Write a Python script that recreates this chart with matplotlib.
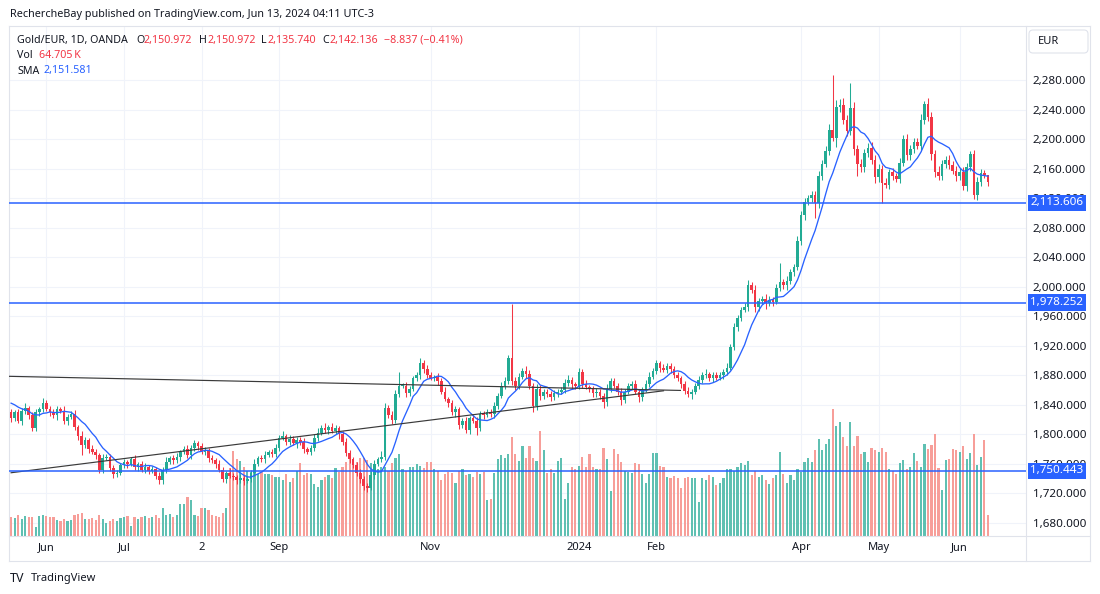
import numpy as np
import pandas as pd
import matplotlib
matplotlib.use("Agg")
from matplotlib import pyplot as plt
from matplotlib.lines import Line2D
from matplotlib.patches import FancyBboxPatch
from matplotlib.transforms import IdentityTransform
import matplotlib.ticker as mticker

plt.rcParams['font.family'] = ['Noto Sans', 'DejaVu Sans']

W, H = 1100, 594

# ---- daily bars, Gold/EUR (OANDA), 18 May 2023 -> 13 Jun 2024 ----
holidays = ["2023-12-25", "2024-01-01", "2024-03-29"]

closes = [
    1822, 1830, 1818, 1832, 1836, 1826, 1808, 1830, 1834, 1842,                      # May 23
    1835, 1830, 1826, 1834, 1832, 1818, 1824, 1828, 1810, 1798, 1786, 1792, 1780,
    1776, 1772, 1752, 1768, 1770, 1754, 1746, 1748, 1758,                            # Jun
    1762, 1760, 1766, 1756, 1760, 1752, 1756, 1750, 1753, 1744, 1738, 1752, 1763,
    1768, 1765, 1770, 1776, 1780, 1772, 1782, 1788,                                  # Jul
    1784, 1776, 1778, 1768, 1765, 1760, 1752, 1740, 1748, 1744, 1742, 1738, 1741,
    1737, 1740, 1748, 1760, 1768, 1766, 1772, 1776, 1774, 1782,                      # Aug
    1795, 1798, 1790, 1794, 1788, 1793, 1790, 1780, 1776, 1782, 1795, 1802, 1808,
    1806, 1810, 1805, 1808, 1800, 1790, 1775, 1766,                                  # Sep
    1758, 1748, 1740, 1730, 1728, 1745, 1760, 1766, 1770, 1836, 1826, 1820, 1855,
    1866, 1866, 1856, 1862, 1876, 1880, 1897, 1889, 1880,                            # Oct
    1876, 1878, 1872, 1858, 1848, 1842, 1830, 1834, 1812, 1818, 1806, 1822, 1818,
    1808, 1828, 1826, 1830, 1827, 1838, 1852, 1866, 1872,                            # Nov
    1903, 1872, 1866, 1878, 1886, 1882, 1866, 1838, 1862, 1852, 1858, 1854, 1850,
    1856, 1858, 1860, 1870, 1874, 1868, 1866,                                        # Dec
    1884, 1868, 1864, 1862, 1856, 1858, 1852, 1844, 1862, 1872, 1866, 1858, 1846,
    1858, 1866, 1868, 1858, 1850, 1860, 1868, 1878, 1886,                            # Jan 24
    1896, 1890, 1887, 1893, 1888, 1880, 1876, 1868, 1859, 1854, 1858, 1865, 1874,
    1880, 1882, 1876, 1881, 1877, 1880, 1884, 1890,                                  # Feb
    1918, 1945, 1957, 1969, 1972, 2002, 1996, 1972, 1980, 1984, 1978, 1982, 1979,
    1998, 2006, 2002, 2008, 2020, 2026, 2062,                                        # Mar
    2097, 2115, 2120, 2124, 2113, 2150, 2166, 2184, 2212, 2202, 2243, 2246, 2226,
    2211, 2242, 2186, 2166, 2162, 2181, 2188, 2172, 2148,                            # Apr
    2160, 2140, 2138, 2155, 2150, 2146, 2168, 2200, 2178, 2186, 2196, 2190, 2226,
    2248, 2230, 2180, 2156, 2150, 2166, 2172, 2165, 2157, 2150,                      # May
    2156, 2136, 2162, 2180, 2124, 2142, 2154, 2150.973, 2142.136,                    # Jun
]
first_open = 1830

upper_wick = [
    4, 3, 5, 4, 6, 3, 4, 5, 3, 7,
    4, 3, 5, 4, 3, 6, 3, 4, 5, 3, 6, 4, 3, 5, 4, 3, 6, 4, 3, 5, 4, 3,
    5, 3, 4, 6, 3, 4, 5, 3, 4, 3, 5, 4, 6, 3, 4, 5, 3, 4, 6, 3, 5,
    3, 4, 5, 3, 4, 3, 5, 4, 3, 6, 4, 3, 5, 4, 3, 4, 6, 3, 4, 5, 3, 4, 5,
    4, 6, 3, 5, 4, 3, 4, 5, 3, 4, 5, 6, 4, 7, 3, 5, 4, 3, 4, 5, 4,
    3, 4, 5, 3, 4, 6, 5, 4, 8, 6, 4, 6, 5, 18, 4, 5, 4, 3, 4, 6, 4, 5,
    4, 3, 5, 4, 6, 3, 4, 5, 3, 4, 6, 3, 4, 5, 4, 3, 5, 4, 6, 4, 5, 6,
    5, 73, 6, 5, 4, 6, 5, 4, 6, 5, 4, 3, 5, 4, 3, 4, 5, 6, 4, 3,
    6, 4, 5, 3, 4, 5, 3, 4, 6, 5, 4, 3, 5, 4, 3, 4, 5, 3, 4, 5, 6, 4,
    5, 4, 5, 3, 4, 5, 4, 3, 4, 5, 3, 4, 5, 4, 6, 3, 4, 3, 5, 4, 6,
    5, 6, 5, 4, 6, 7, 5, 6, 5, 4, 6, 5, 4, 6, 26, 5, 6, 4, 5, 6,
    6, 5, 4, 6, 5, 7, 5, 6, 8, 75, 10, 8, 9, 6, 34, 8, 6, 7, 5, 6, 8, 6,
    6, 5, 7, 5, 6, 4, 6, 5, 7, 6, 5, 6, 8, 3, 7, 6, 5, 7, 6, 5, 6, 5, 6,
    5, 6, 5, 4, 5, 6, 5, 4, 0,
]

lower_wick = [
    5, 4, 3, 6, 4, 5, 4, 3, 5, 4,
    3, 5, 4, 6, 3, 4, 5, 3, 4, 5, 14, 4, 5, 3, 6, 4, 5, 3, 4, 5, 4, 3,
    4, 5, 3, 4, 6, 3, 5, 4, 3, 4, 5, 5, 4, 3, 5, 4, 6, 3, 4, 5, 4,
    5, 3, 4, 6, 4, 5, 3, 4, 6, 3, 4, 5, 4, 6, 3, 5, 4, 3, 4, 5, 3, 4, 5,
    4, 3, 5, 4, 3, 6, 4, 5, 3, 4, 5, 4, 3, 4, 5, 3, 4, 6, 5, 4, 5,
    4, 5, 6, 5, 6, 4, 5, 3, 4, 5, 4, 6, 5, 4, 3, 5, 4, 3, 4, 5, 6, 4,
    3, 4, 5, 4, 3, 5, 4, 6, 5, 3, 4, 5, 3, 9, 4, 5, 3, 4, 5, 4, 3, 4,
    4, 5, 6, 4, 3, 5, 4, 8, 5, 6, 4, 3, 5, 4, 5, 3, 4, 5, 6, 4,
    4, 5, 3, 4, 5, 6, 4, 8, 5, 4, 3, 5, 6, 4, 3, 5, 4, 6, 5, 3, 4, 3,
    4, 5, 3, 4, 5, 3, 4, 5, 4, 4, 6, 3, 4, 5, 3, 4, 5, 3, 4, 5, 4,
    3, 4, 5, 4, 3, 5, 4, 6, 5, 4, 8, 4, 5, 3, 4, 5, 6, 4, 5, 4,
    5, 6, 4, 5, 20, 6, 5, 4, 6, 5, 13, 6, 5, 7, 6, 8, 16, 7, 6, 5, 6, 8,
    6, 27, 5, 6, 5, 4, 6, 5, 7, 6, 5, 4, 6, 5, 6, 8, 7, 5, 6, 5, 6, 5, 7,
    6, 5, 6, 5, 5, 6, 5, 4, 6.396,
]

volume_k = [
    58, 55, 62, 52, 60, 56, 58, 25, 60, 62,
    60, 58, 56, 48, 46, 50, 45, 48, 64, 66, 68, 52, 50, 55, 48, 62, 50, 38, 46, 52, 44, 54,
    56, 60, 30, 58, 52, 56, 60, 54, 58, 62, 55, 84, 62, 66, 58, 64, 96, 98, 120, 108, 62,
    60, 86, 84, 80, 62, 60, 58, 70, 86, 209, 259, 237, 230, 210, 200, 195, 194, 190, 196, 188,
    190, 185, 180,
    180, 172, 188, 165, 176, 200, 222, 185, 194, 190, 160, 150, 172, 180, 185, 178, 208, 195,
    212, 225, 236,
    230, 225, 238, 240, 232, 222, 215, 205, 210, 212, 200, 222, 240, 250, 205, 200, 210, 212,
    220, 215, 208, 225,
    225, 205, 198, 170, 188, 196, 192, 163, 200, 206, 185, 190, 180, 195, 190, 196, 108, 112,
    194, 236, 248, 240,
    252, 302, 252, 230, 277, 240, 277, 240, 230, 323, 262, 194, 206, 194, 230, 240, 114, 163,
    212, 206,
    215, 243, 210, 250, 210, 206, 206, 271, 237, 138, 268, 252, 225, 200, 197, 194, 222, 219,
    190, 163, 190, 255,
    255, 215, 210, 180, 178, 182, 176, 145, 176, 180, 176, 176, 102, 176, 172, 185, 180, 157,
    163, 176, 206,
    206, 200, 212, 222, 218, 231, 185, 200, 179, 185, 172, 160, 176, 185, 256, 190, 163, 185,
    172, 206,
    197, 225, 240, 225, 262, 296, 265, 283, 296, 391, 336, 351, 302, 277, 351, 277, 308, 250,
    256, 225, 271, 262,
    256, 271, 256, 206, 200, 191, 222, 234, 206, 212, 253, 231, 212, 283, 268, 280, 314, 209,
    139, 234, 237, 268, 262,
    256, 277, 237, 253, 314, 216, 243, 293, 64.705,
]

sma_warmup = [1850, 1846, 1852, 1848, 1844, 1840, 1842, 1836]
sma_len = 9

levels = [2113.606, 1978.252, 1750.443]
trend_falling = ([-0.6, 189.8], [1878.6, 1859.5])
trend_rising = ([0, 185], [1748, 1859])

price_ticks = list(range(1680, 2281, 40))
tick_days = ["2023-06-01", "2023-07-03", "2023-08-02", "2023-09-01", "2023-11-01",
             "2024-01-02", "2024-02-01", "2024-04-01", "2024-05-01", "2024-06-03"]
tick_labels = ["Jun", "Jul", "2", "Sep", "Nov", "2024", "Feb", "Apr", "May", "Jun"]

# ---- colours ----
up_col = "#22ab94"
dn_col = "#f23645"
vup_col = "#5fc0b2"
vdn_col = "#f79e99"
blue = "#2962ff"
txt = "#131722"
border = "#e0e3eb"
grid_col = "#f0f3fa"

dates = pd.bdate_range("2023-05-18", "2024-06-13").drop(pd.to_datetime(holidays))
n = len(dates)
idx = np.arange(n)
c = np.array(closes, dtype=float)
o = np.r_[first_open, c[:-1]]
hi = np.maximum(o, c) + np.array(upper_wick, dtype=float)
lo = np.minimum(o, c) - np.array(lower_wick, dtype=float)
vol = np.array(volume_k, dtype=float)
up = c >= o

sma = pd.Series(sma_warmup + closes).rolling(sma_len).mean().to_numpy()[len(sma_warmup):]
tick_pos = [dates.get_loc(pd.Timestamp(d)) for d in tick_days]


def fx(px):
    return px / W


def fy(py):
    return 1 - py / H


fig = plt.figure(figsize=(W / 100, H / 100), dpi=100)
fig.patch.set_facecolor("white")

pane = [fx(9), fy(535.5), fx(1026) - fx(9), fy(26) - fy(535.5)]
xlim = (-0.6, 287.8)

axv = fig.add_axes(pane, zorder=1)
ax = fig.add_axes(pane, zorder=2)
ax.patch.set_visible(False)

ax.set_xlim(*xlim)
ax.set_ylim(1663.0, 2353.1)
axv.set_xlim(*xlim)
axv.set_ylim(0, 1570)
axv.set_axis_off()

# grid (drawn behind the volume bars)
axv.hlines(price_ticks, 0, 1, transform=ax.get_yaxis_transform(), colors=grid_col, lw=0.8, zorder=0)
axv.vlines(tick_pos, 0, 1, transform=axv.get_xaxis_transform(), colors=grid_col, lw=0.8, zorder=0)

# volume
axv.bar(idx, vol, width=0.62, color=np.where(up, vup_col, vdn_col), linewidth=0, zorder=1)

# candles
cols = np.where(up, up_col, dn_col)
ax.vlines(idx, lo, hi, colors=cols, lw=0.75, zorder=3)
body_lo = np.minimum(o, c)
body_h = np.maximum(np.abs(c - o), 0.8)
ax.bar(idx, body_h, bottom=body_lo, width=0.74, color=cols, linewidth=0, zorder=3)

# sma
ax.plot(idx, sma, color=blue, lw=0.95, zorder=4)

# drawings
ax.plot(*trend_falling, color="#3a3a3a", lw=0.85, zorder=4)
ax.plot(*trend_rising, color="#3a3a3a", lw=0.85, zorder=4)
for lv in levels:
    ax.axhline(lv, color=blue, lw=1.1, zorder=4)
    ax.annotate(f"{lv:,.3f}", xy=(1, lv), xycoords=ax.get_yaxis_transform(),
                xytext=(3.2, 0), textcoords="offset points", ha="left", va="center",
                color="white", fontsize=8.4, fontweight="semibold", annotation_clip=False, zorder=10,
                bbox=dict(boxstyle="square,pad=0.24", fc=blue, ec="none"))

# axes
for s in ax.spines.values():
    s.set_visible(False)
ax.yaxis.tick_right()
ax.set_yticks(price_ticks)
ax.yaxis.set_major_formatter(mticker.FuncFormatter(lambda v, p: f"{v:,.3f}"))
ax.tick_params(axis="y", length=0, pad=5, labelsize=8.4, labelcolor=txt)
ax.set_xticks(tick_pos, tick_labels)
ax.tick_params(axis="x", length=0, pad=5, labelsize=8, labelcolor=txt)
ax.get_xticklabels()[5].set_fontweight("bold")

# chart frame
def hline(y, x0, x1):
    fig.add_artist(Line2D([fx(x0), fx(x1)], [fy(y), fy(y)], color=border, lw=0.8))


def vline(x, y0, y1):
    fig.add_artist(Line2D([fx(x), fx(x)], [fy(y0), fy(y1)], color=border, lw=0.8))


hline(26, 9, 1090)
hline(535.5, 9, 1090)
hline(561, 9, 1090)
vline(9, 26, 561)
vline(1026, 26, 561)
vline(1090, 26, 561)

fig.add_artist(FancyBboxPatch((1029, H - 53), 59, 23, boxstyle="round,pad=0,rounding_size=4",
                              transform=IdentityTransform(), fc="white", ec=border, lw=0.8))
fig.text(fx(1038), fy(41), "EUR", fontsize=8, color=txt, va="center")

# header and legend
fig.text(fx(10), fy(15), "RechercheBay published on TradingView.com, Jun 13, 2024 04:11 UTC-3",
         fontsize=7.8, color=txt, va="center")

leg_fs = 7.7
legend_row = [(17, "Gold/EUR, 1D, OANDA", txt), (136, "O", txt), (144, "2,150.972", dn_col),
              (199, "H", txt), (207, "2,150.972", dn_col), (261, "L", txt), (267, "2,135.740", dn_col),
              (322, "C", txt), (330, "2,142.136", dn_col), (384, "\u22128.837 (\u22120.41%)", dn_col)]
for x, s, col in legend_row:
    fig.text(fx(x), fy(40.5), s, fontsize=leg_fs, color=col, va="center")
fig.text(fx(17), fy(56), "Vol", fontsize=leg_fs, color=txt, va="center")
fig.text(fx(39), fy(56), "64.705\u2009K", fontsize=leg_fs, color=dn_col, va="center")
fig.text(fx(17), fy(71), "SMA", fontsize=leg_fs, color=txt, va="center")
fig.text(fx(44), fy(71), "2,151.581", fontsize=leg_fs, color=blue, va="center")

# footer logo
fig.text(fx(10), fy(578), "TV", fontsize=9, fontweight="heavy", color=txt, va="center")
fig.text(fx(31), fy(578), "TradingView", fontsize=8, color=txt, va="center")

fig.savefig("out.png", dpi=100)
